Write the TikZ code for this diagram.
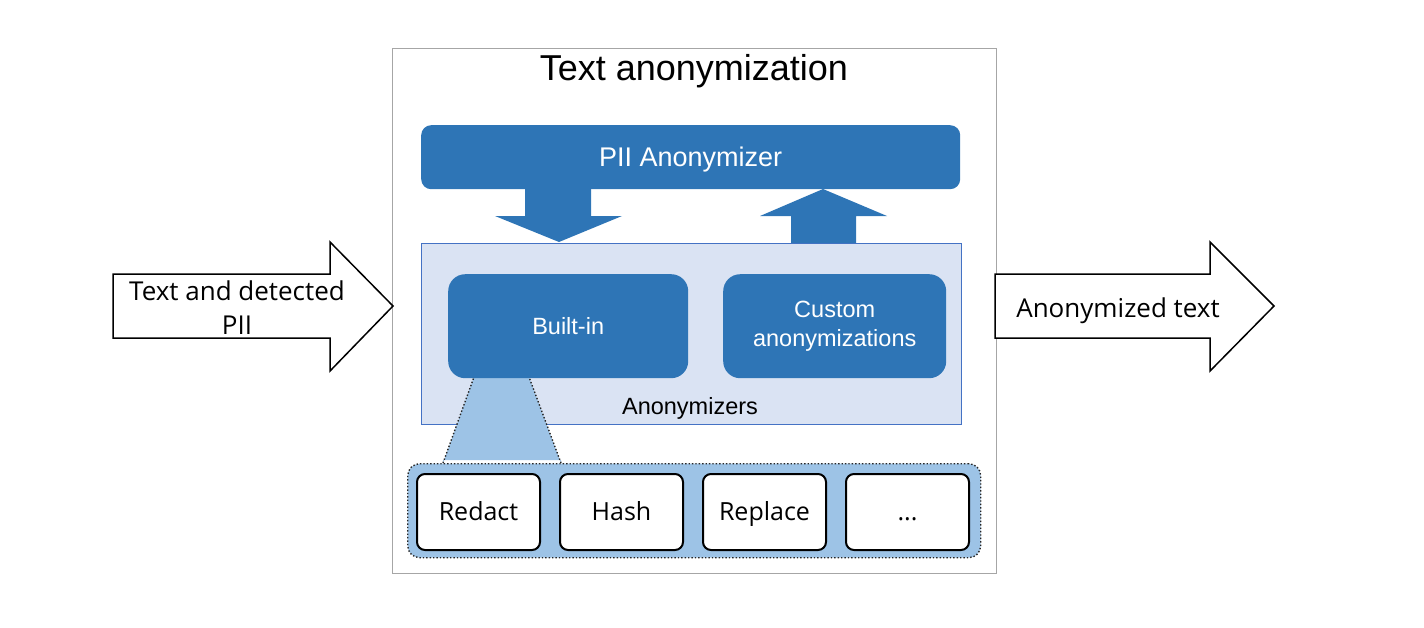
\documentclass[tikz,border=0pt]{standalone}
\usepackage{fontspec}
\setmainfont{Liberation Sans}
\newfontfamily\segoe{Open Sans}
\definecolor{mainblue}{HTML}{2E75B6}
\definecolor{palefill}{HTML}{DAE3F3}
\definecolor{paleedge}{HTML}{4472C4}
\definecolor{calloutfill}{HTML}{9DC3E6}
\definecolor{framegray}{HTML}{A6A6A6}
\begin{document}
\begin{tikzpicture}[x=1pt,y=-1pt,
  bluebox/.style={fill=mainblue, draw=none, text=white, align=center, inner sep=0pt},
  opbox/.style={draw=black, line width=2pt, fill=white, rounded corners=8pt, minimum width=123pt, minimum height=76pt, inner sep=0pt, text height=17.5pt, text depth=0pt, font=\segoe\fontsize{25}{30}\selectfont},
  blockarrow/.style={draw=black, line width=1.5pt, fill=white, line join=miter},
  fatarrow/.style={fill=mainblue, draw=none},
  dotline/.style={draw=black!85, line width=1.4pt, dotted}
]
\useasboundingbox (0,0) rectangle (1424,627);

% outer frame
\node[draw=framegray, line width=1pt, minimum width=604pt, minimum height=525pt, inner sep=0pt, anchor=north west] (frame) at (392,48) {};
\node[font=\fontsize{36}{40}\selectfont] (title) at (694,71) {Text anonymization};

% PII anonymizer
\node[bluebox, rounded corners=10pt, minimum width=539pt, minimum height=64pt, anchor=north west] (pii) at (421,125) {};
\node[text=white, font=\fontsize{27}{32}\selectfont, text height=19.5pt, text depth=0pt, inner sep=0pt] (piitext) at (pii.center) {PII Anonymizer};

% Anonymizers box
\node[draw=paleedge, fill=palefill, line width=0.8pt, minimum width=540pt, minimum height=181pt, inner sep=0pt, anchor=north west] (anon) at (421,243) {};
\node[font=\fontsize{23.5}{28}\selectfont] (anonlabel) at (690,408) {Anonymizers};

% fat arrows
\coordinate (dtip) at (559,242);
\coordinate (utip) at (823,189);
\fill[fatarrow] (525,189) -- (591,189) -- (591,216) -- (622,216) -- (dtip) -- (495,216) -- (525,216) -- cycle;
\fill[fatarrow] (791,243) -- (856,243) -- (856,216) -- (887,216) -- (utip) -- (760,216) -- (791,216) -- cycle;

% callout group
\node[fill=calloutfill, dotline, rounded corners=12pt, minimum width=573pt, minimum height=94pt, inner sep=0pt, anchor=north west] (group) at (407,463) {};
\coordinate (tl) at (474,377);
\coordinate (tr) at (529,377);
\coordinate (bl) at (443,463);
\coordinate (br) at (561,463);
\fill[calloutfill] (tl) -- (tr) -- (br) -- ([yshift=3pt]br) -- ([yshift=3pt]bl) -- (bl) -- cycle;
\draw[dotline] (bl) -- (tl);
\draw[dotline] (br) -- (tr);

% built-in and custom
\node[bluebox, rounded corners=17pt, minimum width=240pt, minimum height=104pt, anchor=north west] (builtin) at (448,274) {};
\node[text=white, font=\fontsize{23.5}{28}\selectfont] (builtintext) at (builtin.center) {Built-in};
\node[bluebox, rounded corners=17pt, minimum width=223pt, minimum height=104pt, anchor=north west] (custom) at (723,274) {};
\node[text=white, align=center, font=\fontsize{23.5}{28.5}\selectfont] (customtext) at (custom.center) {Custom\\anonymizations};

% operator boxes
\node[opbox] (redact) at (478.5,512) {Redact};
\node[opbox] (hash) at (621.5,512) {Hash};
\node[opbox] (replace) at (764.5,512) {Replace};
\node[opbox] (more) at (907.5,512) {...};

% input / output arrows
\draw[blockarrow] (113,274) -- (330,274) -- (330,242) -- (393,306) -- (330,371) -- (330,338) -- (113,338) -- cycle;
\node[align=center, font=\segoe\fontsize{26}{34}\selectfont] (intext) at (237,308) {Text and detected\\PII};
\draw[blockarrow] (995,274) -- (1210,274) -- (1210,242) -- (1274,306) -- (1210,371) -- (1210,338) -- (995,338) -- cycle;
\node[font=\segoe\fontsize{26}{32}\selectfont, text height=18.6pt, text depth=0pt, inner sep=0pt] (outtext) at (1118,308.5) {Anonymized text};
\end{tikzpicture}
\end{document}
